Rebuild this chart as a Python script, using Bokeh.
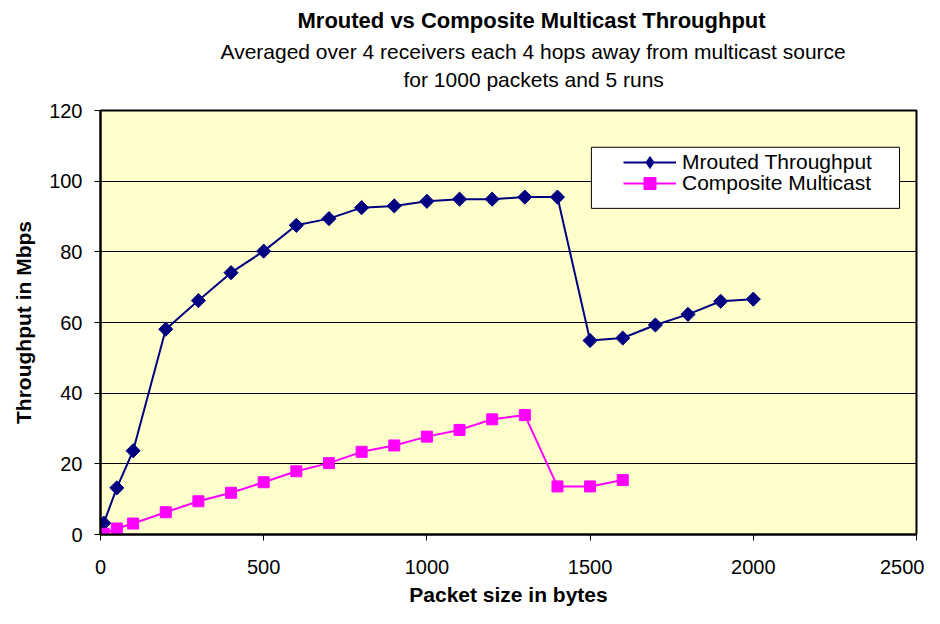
from bokeh.plotting import figure
from bokeh.models import (Range1d, SingleIntervalTicker, Title, Legend, LegendItem,
                          BoxAnnotation)
from bokeh.embed import file_html
from bokeh.resources import INLINE
import numpy as np

# ---- data ----
packet_sizes = [10, 50, 100, 200, 300, 400, 500, 600, 700, 800, 900, 1000,
                1100, 1200, 1300, 1400, 1500, 1600, 1700, 1800, 1900, 2000]
mrouted = [3.2, 13.2, 23.7, 58.1, 66.2, 74.1, 80.2, 87.5, 89.4, 92.5, 93.0, 94.3,
           94.9, 94.9, 95.5, 95.5, 54.9, 55.6, 59.3, 62.3, 66.0, 66.6]
composite_sizes = [10, 50, 100, 200, 300, 400, 500, 600, 700, 800, 900, 1000,
                   1100, 1200, 1300, 1400, 1500, 1600]
composite = [0.2, 1.7, 3.1, 6.3, 9.4, 11.8, 14.8, 17.9, 20.2, 23.4, 25.2, 27.7,
             29.6, 32.6, 33.8, 13.6, 13.6, 15.4]

title_text = "Mrouted vs Composite Multicast Throughput"
subtitle1 = "Averaged over 4 receivers each 4 hops away from multicast source"
subtitle2 = "for 1000 packets and 5 runs"
x_label = "Packet size in bytes"
y_label = "Throughput in Mbps"
series_names = ["Mrouted Throughput", "Composite Multicast"]

FONT = "Liberation Sans"
NAVY = "#000080"
MAGENTA = "#FF00FF"

p = figure(width=924, height=608, output_backend="svg", toolbar_location=None,
           x_range=Range1d(0, 2500), y_range=Range1d(0, 120),
           min_border_left=100, min_border_right=8, min_border_top=110,
           min_border_bottom=73)

p.background_fill_color = "#FFFFCC"
p.border_fill_color = "white"
p.outline_line_color = "black"
p.outline_line_width = 2

# titles (first added is closest to the frame); a thin spacer keeps them off the frame
spacer = Title(text=" ", text_font_size="1px", standoff=13)
t3 = Title(text=subtitle2, align="left", offset=303, text_font=FONT,
           text_font_size="21px", text_font_style="normal", text_color="black",
           standoff=7)
t2 = Title(text=subtitle1, align="left", offset=120, text_font=FONT,
           text_font_size="21px", text_font_style="normal", text_color="black",
           standoff=0)
t1 = Title(text=title_text, align="left", offset=197, text_font=FONT,
           text_font_size="22px", text_font_style="bold", text_color="black",
           standoff=9)
p.add_layout(spacer, "above")
p.add_layout(t3, "above")
p.add_layout(t2, "above")
p.add_layout(t1, "above")

# axes
p.xaxis.ticker = SingleIntervalTicker(interval=500)
p.yaxis.ticker = SingleIntervalTicker(interval=20)
for ax in (p.xaxis, p.yaxis):
    ax.axis_line_color = "black"
    ax.axis_line_width = 2
    ax.major_tick_line_color = "black"
    ax.major_tick_line_width = 1
    ax.major_tick_in = 0
    ax.major_tick_out = 6
    ax.minor_tick_line_color = None
    ax.major_label_text_font = FONT
    ax.major_label_text_font_size = "20px"
    ax.major_label_text_color = "black"
    ax.axis_label_text_font = FONT
    ax.axis_label_text_font_size = "21px"
    ax.axis_label_text_font_style = "bold"
    ax.axis_label_text_color = "black"
p.xaxis.axis_label = x_label
p.yaxis.axis_label = y_label
p.xaxis.major_label_standoff = 19
p.yaxis.major_label_standoff = 12
p.xaxis.axis_label_standoff = 6
p.yaxis.axis_label_standoff = 11

p.xgrid.visible = False
p.ygrid.grid_line_color = "black"
p.ygrid.grid_line_width = 1

# series
l1 = p.line(packet_sizes, mrouted, line_color=NAVY, line_width=2)
# diamond (hidden under the rotated squares) used as the legend's marker
d1 = p.scatter(packet_sizes, mrouted, marker="diamond", size=12,
               fill_color=NAVY, line_color=NAVY)
s1 = p.scatter(packet_sizes, mrouted, marker="square", angle=np.pi / 4, size=10,
               fill_color=NAVY, line_color=NAVY)
l2 = p.line(composite_sizes, composite, line_color=MAGENTA, line_width=2)
s2 = p.scatter(composite_sizes, composite, marker="square", size=11,
               fill_color=MAGENTA, line_color=MAGENTA)

# legend frame
box = BoxAnnotation(left=1504, right=2448, bottom=92.3, top=109.6,
                    fill_color="white", fill_alpha=1.0,
                    line_color="black", line_width=1, line_alpha=1.0)
p.add_layout(box)

common = dict(padding=0, spacing=0, margin=0, glyph_width=53, glyph_height=30,
              label_height=21, label_standoff=6, label_text_font=FONT,
              label_text_font_size="21px", label_text_color="black",
              background_fill_alpha=0, border_line_alpha=0)
legend1 = Legend(items=[LegendItem(label=series_names[0], renderers=[l1, d1])],
                 location=(523, 357), **common)
legend2 = Legend(items=[LegendItem(label=series_names[1], renderers=[l2, s2])],
                 location=(523, 336), **common)
p.add_layout(legend1)
p.add_layout(legend2)

open("out.html", "w").write(file_html(p, INLINE))
